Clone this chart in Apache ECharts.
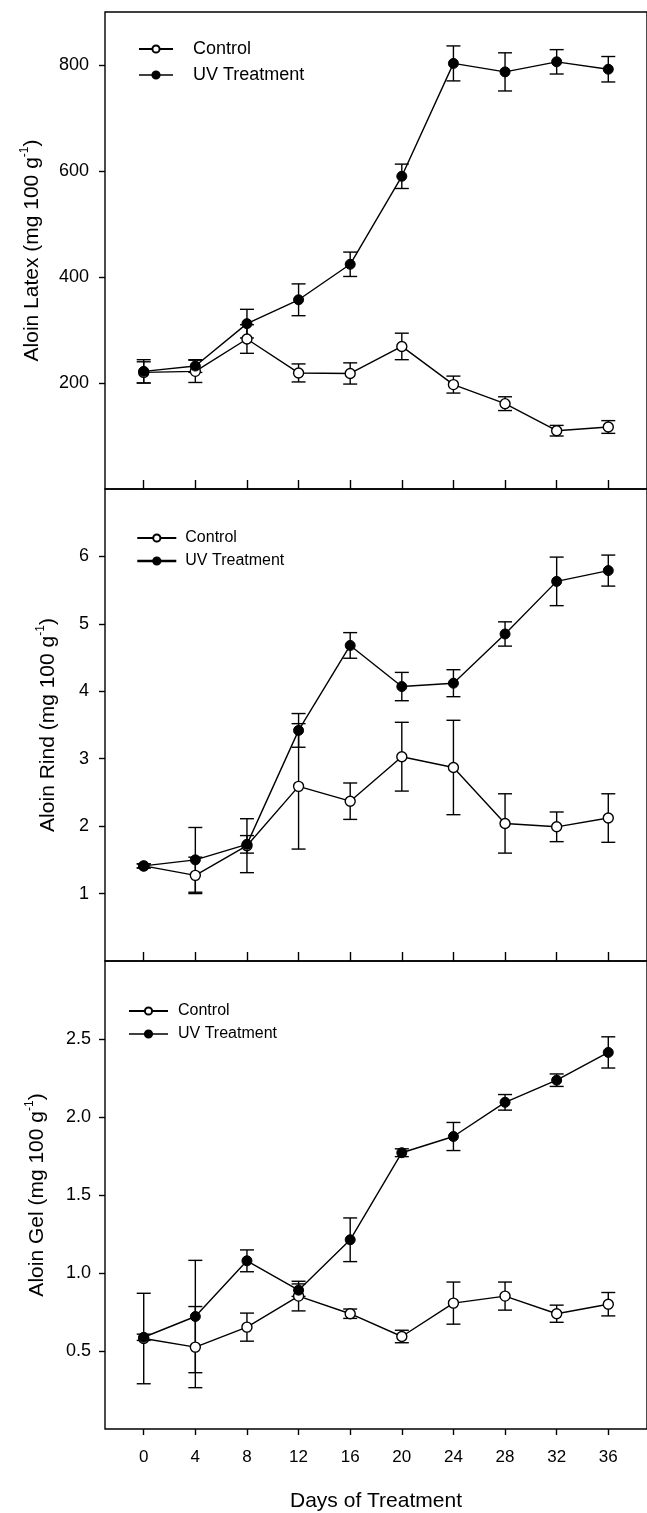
<!DOCTYPE html>
<html>
<head>
<meta charset="utf-8">
<script src="https://cdn.jsdelivr.net/npm/echarts@6/dist/echarts.min.js"></script>
<style>
  html, body { margin: 0; padding: 0; background: #fff; }
  #chart { width: 647px; height: 1513px; }
</style>
</head>
<body>
<div id="chart"></div>
<script>
// days of treatment (x axis)
const days = [0, 4, 8, 12, 16, 20, 24, 28, 32, 36];

// Aloin latex (mg 100 g-1)
const latexControl    = [220, 222, 283, 219, 218, 269, 197, 161, 110, 117];
const latexControlErr = [20, 21, 27, 17, 20, 25, 16, 13, 10, 12];
const latexUV         = [222, 232, 312, 357, 424, 590, 803, 787, 806, 792];
const latexUVErr      = [22, 12, 27, 30, 23, 23, 33, 36, 23, 24];

// Aloin rind
const rindControl    = [1.41, 1.27, 1.71, 2.59, 2.37, 3.03, 2.87, 2.04, 1.99, 2.12];
const rindControlErr = [0.03, 0.27, 0.40, 0.93, 0.27, 0.51, 0.70, 0.44, 0.22, 0.36];
const rindUV         = [1.41, 1.50, 1.73, 3.42, 4.68, 4.07, 4.12, 4.85, 5.63, 5.79];
const rindUVErr      = [0.03, 0.48, 0.13, 0.25, 0.19, 0.21, 0.20, 0.18, 0.36, 0.23];

// Aloin gel
const gelControl    = [0.58, 0.525, 0.653, 0.852, 0.739, 0.593, 0.807, 0.852, 0.739, 0.80];
const gelControlErr = [0.29, 0.26, 0.09, 0.095, 0.03, 0.04, 0.135, 0.09, 0.055, 0.075];
const gelUV         = [0.588, 0.721, 1.078, 0.890, 1.213, 1.771, 1.875, 2.094, 2.236, 2.414];
const gelUVErr      = [0.02, 0.36, 0.07, 0.04, 0.14, 0.025, 0.09, 0.05, 0.04, 0.10];

// tick labels
const dayTicks   = [0, 4, 8, 12, 16, 20, 24, 28, 32, 36];
const latexTicks = [200, 400, 600, 800];
const rindTicks  = [1, 2, 3, 4, 5, 6];
const gelTicks   = [0.5, 1.0, 1.5, 2.0, 2.5];

const FONT = '"Liberation Sans", Arial, sans-serif';

const panels = [
  { name: 'Aloin Latex (mg 100 g', ctrl: latexControl, ctrlErr: latexControlErr, uv: latexUV, uvErr: latexUVErr,
    top: 12, height: 477, max: 900, ticks: latexTicks, fmt: v => String(v), gap: 60, labMargin: 16,
    legend: { left: 138, top: 40, w: 34, fontSize: 18, itemGap: 8, textPad: 15, uvLine: 1.4 } },
  { name: 'Aloin Rind (mg 100 g', ctrl: rindControl, ctrlErr: rindControlErr, uv: rindUV, uvErr: rindUVErr,
    top: 489, height: 472, max: 7, ticks: rindTicks, fmt: v => String(v), gap: 44, labMargin: 16,
    legend: { left: 136, top: 530, w: 39, fontSize: 16, itemGap: 7, textPad: 4, uvLine: 2.6 } },
  { name: 'Aloin Gel (mg 100 g', ctrl: gelControl, ctrlErr: gelControlErr, uv: gelUV, uvErr: gelUVErr,
    top: 961, height: 474, max: 3, ticks: gelTicks, fmt: v => v.toFixed(1), gap: 55, labMargin: 14,
    legend: { left: 128, top: 1003, w: 39, fontSize: 16, itemGap: 7, textPad: 5, uvLine: 1.4 } }
];

function errorBars(mean, err) {
  return days.map((d, i) => [d, mean[i], err[i]]);
}

function renderErr(params, api) {
  const x = api.value(0), y = api.value(1), e = api.value(2);
  const hi = api.coord([x, y + e]);
  const lo = api.coord([x, y - e]);
  const w = 7;
  const st = { stroke: '#000', lineWidth: 1.4 };
  return {
    type: 'group',
    children: [
      { type: 'line', shape: { x1: hi[0], y1: hi[1], x2: lo[0], y2: lo[1] }, style: st },
      { type: 'line', shape: { x1: hi[0] - w, y1: hi[1], x2: hi[0] + w, y2: hi[1] }, style: st },
      { type: 'line', shape: { x1: lo[0] - w, y1: lo[1], x2: lo[0] + w, y2: lo[1] }, style: st }
    ]
  };
}

const grid = [], xAxis = [], yAxis = [], series = [], legend = [];

panels.forEach((p, k) => {
  const last = k === panels.length - 1;
  grid.push({ left: 105, right: -2, top: p.top, height: p.height, show: true,
    borderColor: '#000', borderWidth: 1.4, backgroundColor: 'transparent' });

  xAxis.push({
    type: 'value', gridIndex: k, min: -3, max: 39, position: 'bottom',
    splitLine: { show: false },
    axisLine: { show: false, onZero: false },
    axisTick: { show: true, inside: !last, length: last ? 6 : 9, customValues: dayTicks,
      lineStyle: { color: '#000', width: 1.4 } },
    axisLabel: { show: last, customValues: dayTicks, color: '#000', fontSize: 17, fontFamily: FONT, margin: 20 },
    name: last ? 'Days of Treatment' : '',
    nameLocation: 'middle', nameGap: 62,
    nameTextStyle: { color: '#000', fontSize: 21, fontFamily: FONT }
  });

  yAxis.push({
    type: 'value', gridIndex: k, min: 0, max: p.max, position: 'left',
    splitLine: { show: false },
    axisLine: { show: false, onZero: false },
    axisTick: { show: true, inside: false, length: 6, customValues: p.ticks,
      lineStyle: { color: '#000', width: 1.4 } },
    axisLabel: { customValues: p.ticks, formatter: p.fmt, color: '#000', fontSize: 18,
      fontFamily: FONT, margin: p.labMargin },
    name: '{n|' + p.name + '}{s|-1}{n|)}',
    nameLocation: 'middle', nameRotate: 90, nameGap: p.gap,
    nameTextStyle: {
      color: '#000', fontSize: 21, fontFamily: FONT,
      rich: {
        n: { fontSize: 21, fontFamily: FONT, color: '#000', lineHeight: 26 },
        s: { fontSize: 12, fontFamily: FONT, color: '#000', lineHeight: 14, verticalAlign: 'top' }
      }
    }
  });

  series.push(
    { type: 'custom', xAxisIndex: k, yAxisIndex: k, z: 1, silent: true,
      renderItem: renderErr, data: errorBars(p.ctrl, p.ctrlErr), encode: { x: 0, y: 1 } },
    { type: 'custom', xAxisIndex: k, yAxisIndex: k, z: 1, silent: true,
      renderItem: renderErr, data: errorBars(p.uv, p.uvErr), encode: { x: 0, y: 1 } },
    { name: 'Control', type: 'line', xAxisIndex: k, yAxisIndex: k, z: 3,
      data: days.map((d, i) => [d, p.ctrl[i]]),
      symbol: 'circle', symbolSize: 10,
      lineStyle: { color: '#000', width: 1.4 },
      itemStyle: { color: '#fff', borderColor: '#000', borderWidth: 1.4 } },
    { name: 'UV Treatment', type: 'line', xAxisIndex: k, yAxisIndex: k, z: 4,
      data: days.map((d, i) => [d, p.uv[i]]),
      symbol: 'circle', symbolSize: 10,
      lineStyle: { color: '#000', width: 1.4 },
      itemStyle: { color: '#000', borderColor: '#000', borderWidth: 1 } }
  );

  legend.push({
    data: ['Control', { name: 'UV Treatment', lineStyle: { width: p.legend.uvLine } }],
    orient: 'vertical', selectedMode: false, padding: 0,
    left: p.legend.left, top: p.legend.top, itemWidth: p.legend.w, itemHeight: 9, itemGap: p.legend.itemGap,
    textStyle: { color: '#000', fontSize: p.legend.fontSize, fontFamily: FONT, padding: [0, 0, 0, p.legend.textPad] }
  });
});

const chart = echarts.init(document.getElementById('chart'), null, { renderer: 'canvas' });
chart.setOption({
  animation: false,
  backgroundColor: '#fff',
  grid, xAxis, yAxis, series, legend
});
</script>
</body>
</html>
